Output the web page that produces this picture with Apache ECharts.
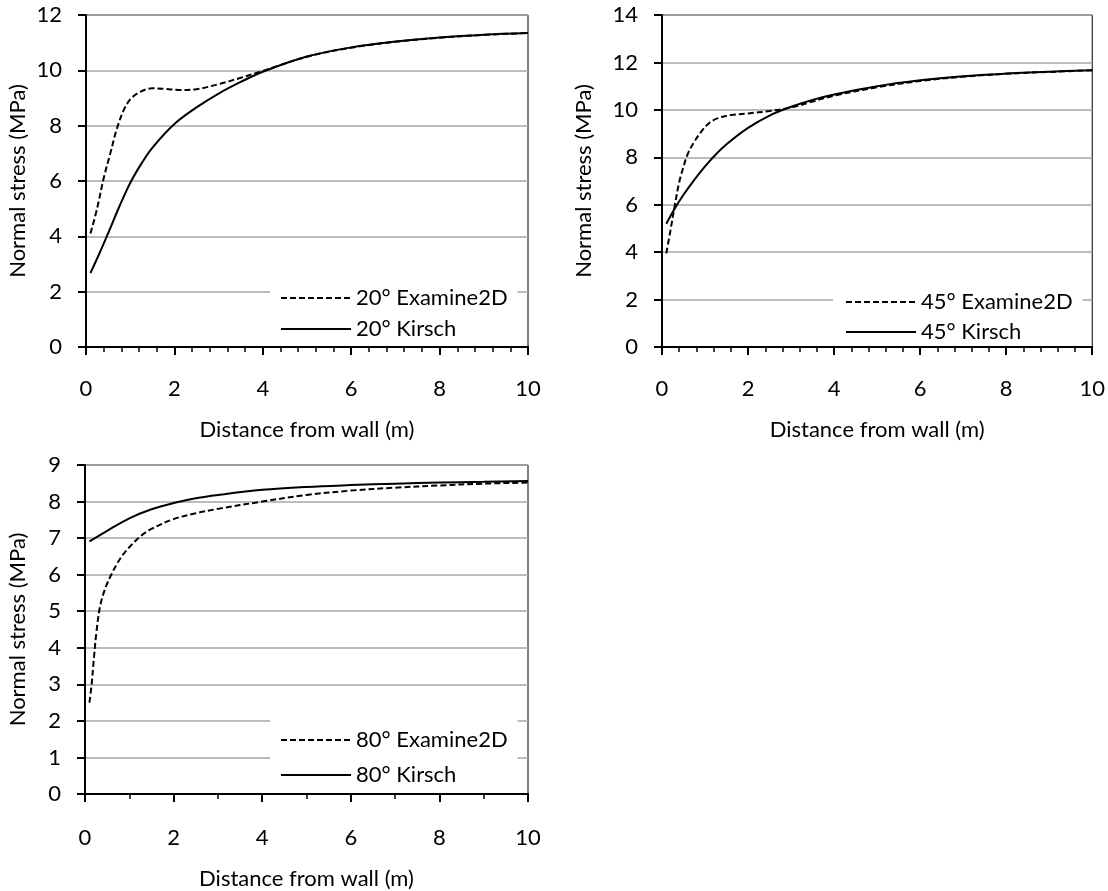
<!DOCTYPE html>
<html>
<head>
<meta charset="utf-8">
<script src="https://cdn.jsdelivr.net/npm/echarts@6/dist/echarts.min.js"></script>
<style>html,body{margin:0;padding:0;background:#fff;}#c{width:1108px;height:891px;}</style>
</head>
<body>
<div id="c"></div>
<script>
// ---- data (distance from wall in m, normal stress in MPa) ----
const xTicks = [0, 2, 4, 6, 8, 10];
const yTicks20 = [0, 2, 4, 6, 8, 10, 12];
const yTicks45 = [0, 2, 4, 6, 8, 10, 12, 14];
const yTicks80 = [0, 1, 2, 3, 4, 5, 6, 7, 8, 9];

const x20Exam = [0.1, 0.25, 0.4, 0.55, 0.7, 0.85, 1.0, 1.2, 1.5, 1.8, 2.1, 2.5, 3.0, 3.5, 4.0, 5, 6, 7, 8, 9, 10];
const y20Exam = [4.1, 5.0, 6.1, 7.0, 7.9, 8.55, 8.95, 9.2, 9.35, 9.33, 9.29, 9.32, 9.5, 9.73, 9.98, 10.49, 10.82, 11.03, 11.18, 11.28, 11.35];
const x20Kir = [0.1, 0.3, 0.5, 0.75, 1.0, 1.25, 1.5, 2.0, 2.5, 3.0, 3.5, 4.0, 5, 6, 7, 8, 9, 10];
const y20Kir = [2.67, 3.37, 4.11, 5.06, 5.93, 6.62, 7.2, 8.06, 8.66, 9.16, 9.58, 9.95, 10.5, 10.83, 11.04, 11.19, 11.29, 11.35];

const x45Exam = [0.1, 0.2, 0.3, 0.4, 0.5, 0.6, 0.75, 0.9, 1.1, 1.3, 1.6, 2.0, 2.5, 3.0, 3.5, 4, 5, 6, 7, 8, 9, 10];
const y45Exam = [3.95, 4.95, 6.0, 6.95, 7.6, 8.15, 8.65, 9.05, 9.45, 9.65, 9.78, 9.85, 9.95, 10.1, 10.35, 10.6, 10.95, 11.22, 11.4, 11.52, 11.6, 11.67];
const x45Kir = [0.1, 0.3, 0.5, 0.75, 1.0, 1.25, 1.5, 2.0, 2.5, 3.0, 3.5, 4, 5, 6, 7, 8, 9, 10];
const y45Kir = [5.2, 5.85, 6.42, 7.05, 7.62, 8.12, 8.55, 9.24, 9.76, 10.13, 10.42, 10.65, 11.0, 11.25, 11.42, 11.53, 11.61, 11.67];

const x80Exam = [0.1, 0.15, 0.2, 0.26, 0.34, 0.45, 0.6, 0.8, 1.0, 1.25, 1.5, 2.0, 2.5, 3.0, 4, 5, 6, 7, 8, 9, 10];
const y80Exam = [2.5, 3.0, 3.7, 4.45, 5.13, 5.6, 6.02, 6.45, 6.75, 7.05, 7.25, 7.52, 7.68, 7.8, 8.0, 8.18, 8.3, 8.38, 8.44, 8.49, 8.52];
const x80Kir = [0.1, 0.5, 1.0, 1.5, 2.0, 2.5, 3.0, 4, 5, 6, 7, 8, 9, 10];
const y80Kir = [6.91, 7.2, 7.54, 7.79, 7.96, 8.09, 8.18, 8.32, 8.4, 8.45, 8.49, 8.52, 8.54, 8.56];

const names = ['20° Examine2D', '20° Kirsch', '45° Examine2D', '45° Kirsch', '80° Examine2D', '80° Kirsch'];
const xTitle = 'Distance from wall (m)';
const yTitle = 'Normal stress (MPa)';

// ---- build ----
const FONT = 'Lato';
const FS = 22;
const zip = (xs, ys) => xs.map((x, i) => [x, ys[i]]);

function xAxis(gi, minorSplit, margin, gap) {
  return {
    type: 'value', gridIndex: gi, min: xTicks[0], max: xTicks[xTicks.length - 1], interval: 2,
    name: xTitle, nameLocation: 'middle', nameGap: gap,
    nameTextStyle: { fontFamily: FONT, fontSize: FS, color: '#000' },
    axisLine: { show: true, lineStyle: { color: '#000', width: 2 } },
    axisTick: { show: true, inside: false, length: 8, lineStyle: { color: '#000', width: 2 } },
    minorTick: { show: true, splitNumber: minorSplit, length: 5, lineStyle: { color: '#000', width: 1.5 } },
    splitLine: { show: false },
    axisLabel: { margin: margin, fontFamily: FONT, fontSize: FS, color: '#000' }
  };
}
function yAxis(gi, ticks, gap) {
  return {
    type: 'value', gridIndex: gi, min: ticks[0], max: ticks[ticks.length - 1], interval: ticks[1] - ticks[0],
    name: yTitle, nameLocation: 'middle', nameGap: gap,
    nameTextStyle: { fontFamily: FONT, fontSize: FS, color: '#000' },
    axisLine: { show: true, lineStyle: { color: '#000', width: 2 } },
    axisTick: { show: true, inside: false, length: 8, lineStyle: { color: '#000', width: 2 } },
    splitLine: { show: true, lineStyle: { color: '#a6a6a6', width: 1.5 } },
    axisLabel: { margin: 24, fontFamily: FONT, fontSize: FS, color: '#000' }
  };
}
function series(name, gi, data, dashed) {
  return {
    name: name, type: 'line', xAxisIndex: gi, yAxisIndex: gi, data: data,
    symbol: 'none', showSymbol: false, smooth: 0.35,
    lineStyle: { color: '#000', width: 2, type: dashed ? [6, 3] : 'solid' },
    itemStyle: { color: '#000' }
  };
}
function legend(items, left, top, padding, gap) {
  return {
    data: items, orient: 'vertical', left: left, top: top, padding: padding,
    itemWidth: 70, itemHeight: 14, itemGap: gap, backgroundColor: '#fff',
    selectedMode: false,
    itemStyle: { opacity: 0 },
    textStyle: { fontFamily: FONT, fontSize: FS, color: '#000', lineHeight: 24 }
  };
}

const option = {
  animation: false,
  backgroundColor: '#fff',
  grid: [
    { left: 86, top: 15, width: 442, height: 332, show: true, borderColor: '#000', borderWidth: 1 },
    { left: 662, top: 15, width: 434, height: 332, show: true, borderColor: '#000', borderWidth: 1 },
    { left: 85, top: 465, width: 443, height: 330, show: true, borderColor: '#000', borderWidth: 1 }
  ],
  xAxis: [xAxis(0, 5, 31, 72), xAxis(1, 5, 31, 72), xAxis(2, 2, 33, 74)],
  yAxis: [yAxis(0, yTicks20, 57), yAxis(1, yTicks45, 67), yAxis(2, yTicks80, 56)],
  legend: [
    legend([names[0], names[1]], 270, 283, [3, 10, 0, 10], 7),
    legend([names[2], names[3]], 833, 287, [3, 10, 0, 12], 6),
    legend([names[4], names[5]], 270, 712, [16, 10, 3, 10], 11)
  ],
  series: [
    series(names[0], 0, zip(x20Exam, y20Exam), true),
    series(names[1], 0, zip(x20Kir, y20Kir), false),
    series(names[2], 1, zip(x45Exam, y45Exam), true),
    series(names[3], 1, zip(x45Kir, y45Kir), false),
    series(names[4], 2, zip(x80Exam, y80Exam), true),
    series(names[5], 2, zip(x80Kir, y80Kir), false)
  ]
};
echarts.init(document.getElementById('c'), null, { renderer: 'canvas' }).setOption(option);
</script>
</body>
</html>
